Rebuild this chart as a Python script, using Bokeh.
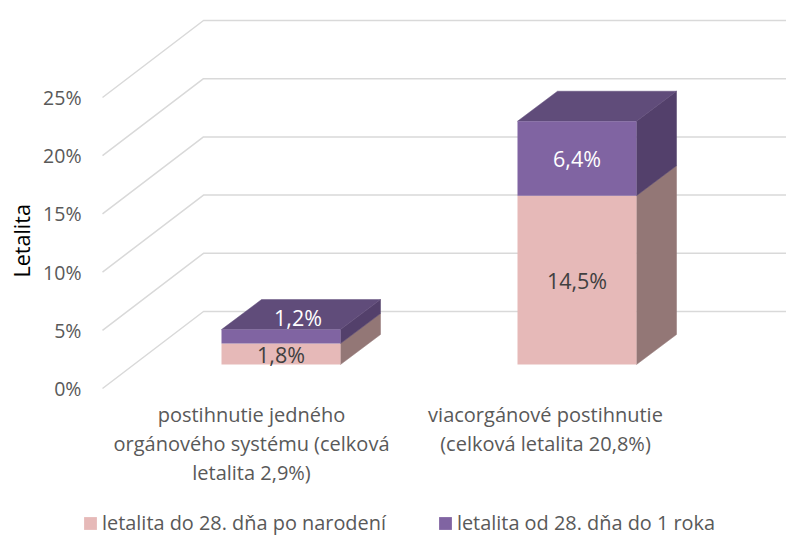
from bokeh.plotting import figure
from bokeh.models import FixedTicker, PrintfTickFormatter, Legend, LegendItem, Title, Range1d
from bokeh.core.properties import value
from bokeh.embed import file_html
from bokeh.resources import INLINE

categories = ["postihnutie jedného\norgánového systému (celková\nletalita 2,9%)",
              "viacorgánové postihnutie\n(celková letalita 20,8%)"]
series_names = ["letalita do 28. dňa po narodení", "letalita od 28. dňa do 1 roka"]
early = [1.8, 14.5]
late = [1.2, 6.4]
early_labels = ["1,8%", "14,5%"]
late_labels = ["1,2%", "6,4%"]
y_ticks = [0, 5, 10, 15, 20, 25]

FONT = "Open Sans"
GREY = "#595959"
PINK, PINK_SIDE = "#E6B9B8", "#937776"
PURPLE, PURPLE_SIDE, PURPLE_TOP = "#8064A2", "#53406B", "#604C7A"

PX = 11.64                # pixels per percentage point
DEPTH_DX, DEPTH_DY = 101, 77 / PX
FRONT_X, BACK_X, RIGHT_X = 102, 203, 800
BAR_X = [280.5, 576.5]
BAR_W = 119
BAR_BASE = 24 / PX
BAR_DX, BAR_DY = 40, 30 / PX
TICK_X = [251, 545]

p = figure(width=786, height=536, output_backend="svg", toolbar_location=None,
           x_range=Range1d(82, 786), y_range=Range1d(-148 / PX, 388 / PX),
           x_axis_location=None,
           min_border_left=82, min_border_right=0, min_border_top=0, min_border_bottom=0,
           background_fill_color="white", border_fill_color="white", outline_line_color=None)
p.grid.visible = False

ya = p.yaxis[0]
ya.ticker = FixedTicker(ticks=y_ticks)
ya.formatter = PrintfTickFormatter(format="%d%%")
ya.axis_line_color = None
ya.major_tick_line_color = None
ya.minor_tick_line_color = None
ya.major_tick_out = 0
ya.major_label_standoff = 1
ya.major_label_text_font = FONT
ya.major_label_text_font_size = "19.5px"
ya.major_label_text_color = GREY

# walls
p.multi_line([[FRONT_X, BACK_X, RIGHT_X] for _ in y_ticks],
             [[t, t + DEPTH_DY, t + DEPTH_DY] for t in y_ticks],
             line_color="#D9D9D9", line_width=1.5)

# sides and tops
for cx, a, b in zip(BAR_X, early, late):
    l, r = cx - BAR_W / 2, cx + BAR_W / 2
    y0, y1, y2 = BAR_BASE, BAR_BASE + a, BAR_BASE + a + b
    p.patch([r, r + BAR_DX, r + BAR_DX, r], [y0, y0 + BAR_DY, y1 + BAR_DY, y1],
            fill_color=PINK_SIDE, line_color=PINK_SIDE, line_width=0.5)
    p.patch([r, r + BAR_DX, r + BAR_DX, r], [y1, y1 + BAR_DY, y2 + BAR_DY, y2],
            fill_color=PURPLE_SIDE, line_color=PURPLE_SIDE, line_width=0.5)
    p.patch([l, l + BAR_DX, r + BAR_DX, r], [y2, y2 + BAR_DY, y2 + BAR_DY, y2],
            fill_color=PURPLE_TOP, line_color=PURPLE_TOP, line_width=0.5)

# fronts
bottoms = [BAR_BASE for _ in early]
tops1 = [BAR_BASE + a for a in early]
tops2 = [t + b for t, b in zip(tops1, late)]
r1 = p.vbar(x=BAR_X, width=BAR_W, bottom=bottoms, top=tops1, fill_color=PINK, line_color=None)
r2 = p.vbar(x=BAR_X, width=BAR_W, bottom=tops1, top=tops2, fill_color=PURPLE, line_color=None)

# data labels
for i, cx in enumerate(BAR_X):
    p.text([cx], [(bottoms[i] + tops1[i]) / 2], text=[early_labels[i]],
           text_font=value(FONT), text_font_size="21.5px", text_color="#404040",
           text_align="center", text_baseline="middle")
    small = late[i] < 2
    p.text([cx + (17 if small else 0)],
           [(tops1[i] + tops2[i]) / 2 + (19 / PX if small else 0)], text=[late_labels[i]],
           text_font=value(FONT), text_font_size="21.5px", text_color="#FFFFFF",
           text_align="center", text_baseline="middle")

# category labels
p.text(TICK_X, [-12 / PX] * len(TICK_X), text=categories,
       text_font=value(FONT), text_font_size="20px", text_color=GREY,
       text_align="center", text_baseline="top", text_line_height=1.08)

p.add_layout(Title(text="Letalita", align="left", offset=259, standoff=9,
                   text_font=FONT, text_font_size="21.5px", text_font_style="normal",
                   text_line_height=0.8, text_color="#000000"), "left")

legend = Legend(items=[LegendItem(label=series_names[0], renderers=[r1]),
                       LegendItem(label=series_names[1], renderers=[r2])],
                orientation="horizontal", location=(0, 0), padding=0, margin=0,
                spacing=51, glyph_width=16, glyph_height=16, label_standoff=4,
                border_line_color=None, background_fill_alpha=0,
                label_text_font=FONT, label_text_font_size="19.9px", label_text_color=GREY)
p.add_layout(legend)

open("out.html", "w").write(file_html(p, INLINE))
